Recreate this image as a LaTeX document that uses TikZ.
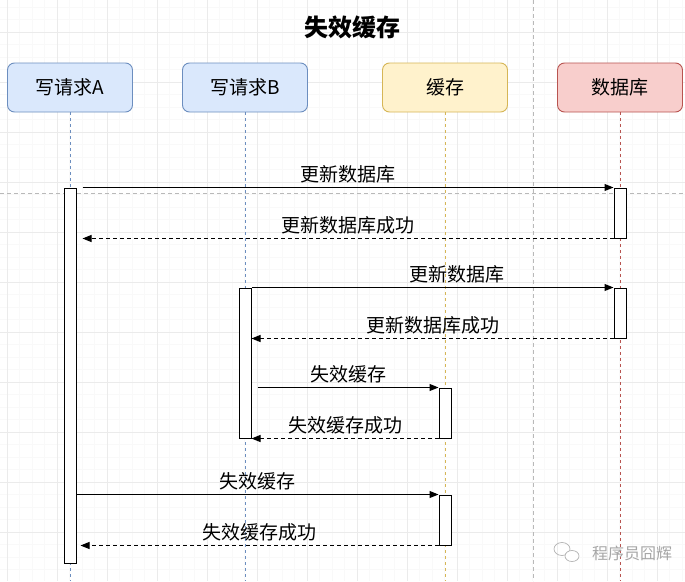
\documentclass[tikz,border=0pt]{standalone}
\usepackage{fontspec}
\setmainfont{Noto Sans CJK SC}
\usetikzlibrary{arrows.meta}
\definecolor{blueF}{HTML}{DAE8FC}
\definecolor{blueD}{HTML}{6C8EBF}
\definecolor{yelF}{HTML}{FFF2CC}
\definecolor{yelD}{HTML}{D6B656}
\definecolor{redF}{HTML}{F8CECC}
\definecolor{redD}{HTML}{B85450}
\tikzset{
  head/.style={draw, rounded corners=7pt, line width=0.9pt, minimum width=125pt, minimum height=49pt, font=\fontsize{19}{22}\selectfont},
  bar/.style={draw, fill=white, line width=1pt, minimum width=12pt, inner sep=0pt},
  life/.style={line width=0.8pt, dash pattern=on 3pt off 3pt},
  msg/.style={line width=1pt, -{Triangle[length=9pt,width=7pt]}},
  ret/.style={msg, dash pattern=on 4pt off 3pt},
  lbl/.style={midway, yshift=13pt, font=\fontsize{19}{22}\selectfont},
  gridminor/.style={gray!5, line width=0.5pt},
  gridmajor/.style={gray!16, line width=0.7pt}
}
\begin{document}
\begin{tikzpicture}[x=1pt,y=-1pt]
\useasboundingbox (0,0) rectangle (685,581);
\fill[white] (0,0) rectangle (685,581);
\foreach \g in {-5.5,7,...,690} \draw[gridminor] (\g,0) -- (\g,581);
\foreach \g in {-5.5,7,...,585} \draw[gridminor] (0,\g) -- (685,\g);
\foreach \g in {7,57,...,657} \draw[gridmajor] (\g,0) -- (\g,581);
\foreach \g in {32,82,...,532} \draw[gridmajor] (0,\g) -- (685,\g);
\draw[gray!55, line width=0.7pt, dash pattern=on 4pt off 3pt] (533,0) -- (533,581);
\draw[gray!55, line width=0.7pt, dash pattern=on 4pt off 3pt] (0,193) -- (685,193);
\coordinate (bottom) at (0,581);

\node[font=\fontsize{24}{28}\selectfont\bfseries] (title) at (352,27) {失效缓存};

\node[head, fill=blueF, draw=blueD] (reqA) at (70,87.5) {写请求A};
\node[head, fill=blueF, draw=blueD] (reqB) at (245,87.5) {写请求B};
\node[head, fill=yelF, draw=yelD] (cache) at (445,87.5) {缓存};
\node[head, fill=redF, draw=redD] (db) at (620,87.5) {数据库};

\draw[life, draw=blueD] (reqA.south) -- (reqA.south |- bottom);
\draw[life, draw=blueD] (reqB.south) -- (reqB.south |- bottom);
\draw[life, draw=yelD] (cache.south) -- (cache.south |- bottom);
\draw[life, draw=redD] (db.south) -- (db.south |- bottom);

\node[bar, minimum height=375pt] (actA) at (70,375.5) {};
\node[bar, minimum height=50pt] (dbA) at (620,213) {};
\node[bar, minimum height=150pt] (actB) at (245,363) {};
\node[bar, minimum height=50pt] (dbB) at (620,313) {};
\node[bar, minimum height=50pt] (cacheA) at (445,413) {};
\node[bar, minimum height=50pt] (cacheB) at (445,520) {};

\draw[msg] ([xshift=6pt]actA.east |- dbA.north) -- (dbA.north west) node[lbl] {更新数据库};
\draw[ret] (dbA.south west) -- ([xshift=6pt]actA.east |- dbA.south) node[lbl] {更新数据库成功};
\draw[msg] (actB.north east) -- (dbB.north west) node[lbl, xshift=24pt] {更新数据库};
\draw[ret] (dbB.south west) -- (actB.east |- dbB.south) node[lbl] {更新数据库成功};
\draw[msg] ([xshift=6pt]actB.east |- cacheA.north) -- (cacheA.north west) node[lbl] {失效缓存};
\draw[ret] (cacheA.south west) -- (actB.south east) node[lbl] {失效缓存成功};
\draw[msg] (actA.east |- cacheB.north) -- (cacheB.north west) node[lbl] {失效缓存};
\draw[ret] (cacheB.south west) -- ([xshift=4pt]actA.east |- cacheB.south) node[lbl] {失效缓存成功};

\draw[gray!60, line width=0.7pt] (562,549) ellipse (8 and 6.5);
\draw[gray!60, line width=0.7pt, fill=white] (572,556) ellipse (7 and 5.5);
\node[text=gray!70, font=\fontsize{16}{18}\selectfont] (mark) at (632,553) {程序员囧辉};
\end{tikzpicture}
\end{document}
